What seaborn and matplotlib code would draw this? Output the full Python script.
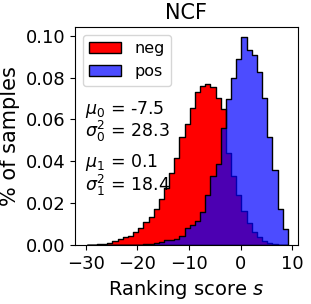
import numpy as np
import pandas as pd
import matplotlib
matplotlib.use("Agg")
import matplotlib.pyplot as plt
from matplotlib.ticker import MultipleLocator
import seaborn as sns

# bordes de los bins (anchura 1)
bin_edges = np.arange(-29.85, 9.2, 1.0)
bin_centers = (bin_edges[:-1] + bin_edges[1:]) / 2

neg_heights = [0.0001, 0.0002, 0.0003, 0.0005, 0.0011, 0.0020, 0.0028, 0.0037,
               0.0044, 0.0063, 0.0080, 0.0108, 0.0134, 0.0174, 0.0222, 0.0272,
               0.0344, 0.0414, 0.0515, 0.0579, 0.0653, 0.0732, 0.0760, 0.0771,
               0.0754, 0.0702, 0.0648, 0.0440, 0.0330, 0.0240, 0.0161, 0.0106,
               0.0063, 0.0040, 0.0019, 0.0011, 0.0006, 0.0002, 0.0001]
pos_heights = [0.0, 0.0, 0.0, 0.0, 0.0, 0.0, 0.0, 0.0,
               0.0001, 0.0001, 0.0002, 0.0003, 0.0005, 0.0008, 0.0015, 0.0024,
               0.0025, 0.0027, 0.0045, 0.0082, 0.0095, 0.0115, 0.0160, 0.0237,
               0.0328, 0.0387, 0.0558, 0.0699, 0.0800, 0.0888, 0.0992, 0.0930,
               0.0909, 0.0829, 0.0704, 0.0517, 0.0360, 0.0173, 0.0075]

# estadisticos de cada clase
mu_neg, var_neg = "-7.5", "28.3"
mu_pos, var_pos = "0.1", "18.4"

df_neg = pd.DataFrame({"score": bin_centers, "frac": neg_heights})
df_pos = pd.DataFrame({"score": bin_centers, "frac": pos_heights})

fig, ax = plt.subplots(figsize=(3.11, 3.04), dpi=100)
fig.subplots_adjust(left=0.241, right=0.958, bottom=0.194, top=0.911)

sns.histplot(data=df_neg, x="score", weights="frac", bins=list(bin_edges),
             element="step", fill=True, color="red", edgecolor="black",
             linewidth=1, alpha=1.0, label="neg", ax=ax)
sns.histplot(data=df_pos, x="score", weights="frac", bins=list(bin_edges),
             element="step", fill=True, color="blue", edgecolor="black",
             linewidth=1, alpha=0.7, label="pos", ax=ax)

ax.set_xlim(-32.1, 11.1)
ax.xaxis.set_major_locator(MultipleLocator(10))

ax.set_title("NCF", fontsize=15)
ax.set_xlabel(r"Ranking score $s$", fontsize=14)
ax.set_ylabel("% of samples", fontsize=15)
ax.tick_params(axis="both", labelsize=13)
ax.legend(loc="upper left", fontsize=11.5)

# textos con media y varianza
ax.text(0.045, 0.67, r"$\mu_0$ = " + mu_neg + "\n" + r"$\sigma_0^2$ = " + var_neg,
        transform=ax.transAxes, fontsize=12.5, va="top", ha="left",
        linespacing=0.95)
ax.text(0.045, 0.425, r"$\mu_1$ = " + mu_pos + "\n" + r"$\sigma_1^2$ = " + var_pos,
        transform=ax.transAxes, fontsize=12.5, va="top", ha="left",
        linespacing=0.95)

plt.savefig("out.png", dpi=100)
plt.close(fig)
